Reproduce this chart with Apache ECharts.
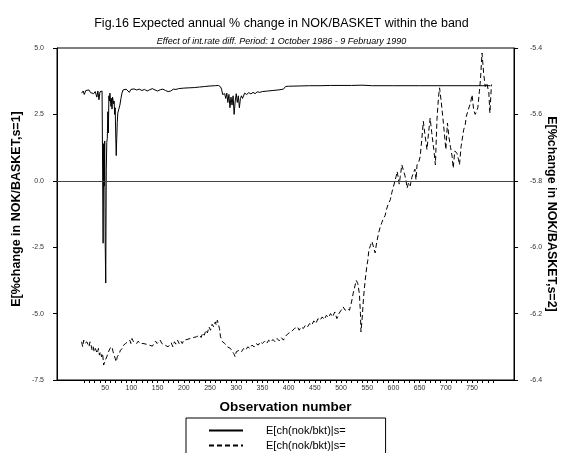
<!DOCTYPE html>
<html>
<head>
<meta charset="utf-8">
<script src="https://cdn.jsdelivr.net/npm/echarts@6/dist/echarts.min.js"></script>
<style>
  html, body { margin: 0; padding: 0; background: #fff; }
  #main { width: 563px; height: 453px; }
</style>
</head>
<body>
<div id="main"></div>
<script>
// observation numbers and values, s=1 (left axis)
const obs1 = [5, 8, 10, 13, 16, 19, 22, 25, 28, 31, 34, 36, 38, 40, 42, 44, 46, 47, 48, 49, 50, 51, 52, 53, 54, 55, 56, 57, 58, 59, 61, 62, 63, 64, 66, 67, 68, 69, 70, 71, 72, 73, 74, 76, 78, 80, 82, 84, 87, 90, 93, 96, 99, 102, 105, 110, 115, 120, 125, 130, 135, 140, 145, 150, 155, 160, 165, 170, 175, 180, 185, 190, 200, 210, 220, 230, 240, 250, 260, 266, 270, 272, 274, 276, 278, 280, 282, 284, 286, 288, 290, 292, 294, 296, 298, 300, 302, 304, 306, 308, 310, 312, 316, 320, 324, 328, 332, 336, 340, 345, 350, 360, 370, 380, 390, 394, 400, 420, 440, 460, 480, 500, 520, 540, 560, 600, 650, 700, 750, 785];
const val1 = [3.30, 3.38, 3.25, 3.40, 3.35, 3.42, 3.32, 3.38, 3.28, 3.36, 3.15, 3.38, 3.05, 3.35, 3.30, 3.38, -2.35, 1.40, -0.2, 1.5, -2.4, -3.85, 0.4, 1.45, 1.6, 2.6, 1.8, 3.2, 3.0, 3.3, 2.8, 3.1, 2.7, 3.15, 2.9, 3.0, 2.5, 2.75, 1.8, 0.95, 1.6, 2.2, 2.55, 2.7, 2.85, 3.1, 3.3, 3.42, 3.35, 3.45, 3.40, 3.33, 3.44, 3.38, 3.46, 3.42, 3.45, 3.40, 3.44, 3.38, 3.43, 3.47, 3.42, 3.38, 3.43, 3.45, 3.40, 3.36, 3.38, 3.45, 3.44, 3.47, 3.49, 3.50, 3.51, 3.53, 3.55, 3.57, 3.58, 3.59, 3.54, 3.45, 3.25, 3.32, 3.28, 3.10, 3.30, 2.95, 3.25, 2.75, 3.15, 2.85, 3.2, 2.5, 3.0, 3.28, 2.95, 3.2, 2.75, 3.1, 3.2, 3.1, 3.3, 3.25, 3.32, 3.27, 3.33, 3.28, 3.35, 3.33, 3.36, 3.38, 3.40, 3.42, 3.45, 3.55, 3.56, 3.57, 3.58, 3.58, 3.59, 3.59, 3.59, 3.60, 3.58, 3.58, 3.58, 3.58, 3.58, 3.58];

// observation numbers and values, s=2 (right axis)
const obs2 = [5, 7, 9, 11, 13, 15, 17, 19, 21, 23, 25, 27, 29, 31, 33, 35, 37, 39, 41, 43, 45, 47, 48, 49, 51, 53, 55, 57, 59, 61, 63, 65, 67, 69, 71, 73, 75, 77, 79, 81, 83, 85, 87, 89, 91, 93, 95, 97, 99, 101, 104, 107, 110, 113, 116, 119, 122, 125, 128, 131, 134, 137, 140, 143, 146, 149, 152, 155, 158, 161, 164, 167, 170, 173, 176, 179, 182, 185, 188, 191, 194, 197, 200, 203, 206, 209, 212, 215, 218, 221, 224, 227, 230, 233, 236, 239, 242, 245, 248, 251, 254, 257, 260, 262, 264, 266, 268, 270, 272, 274, 276, 278, 280, 283, 286, 289, 292, 295, 298, 300, 303, 306, 310, 314, 318, 322, 326, 330, 334, 338, 342, 346, 350, 354, 358, 362, 366, 370, 374, 378, 382, 386, 390, 393, 396, 399, 402, 405, 408, 411, 414, 417, 420, 424, 428, 432, 436, 440, 444, 448, 452, 456, 460, 464, 468, 472, 476, 480, 484, 488, 492, 496, 500, 504, 508, 512, 516, 520, 523, 526, 529, 532, 535, 537, 538, 540, 543, 546, 549, 551, 553, 556, 559, 562, 565, 568, 572, 575, 578, 581, 584, 587, 590, 594, 597, 600, 603, 605, 607, 609, 611, 613, 616, 619, 622, 624, 626, 629, 632, 635, 638, 641, 643, 645, 648, 651, 654, 657, 660, 664, 667, 670, 673, 677, 680, 683, 686, 688, 691, 694, 697, 700, 703, 706, 709, 712, 714, 717, 721, 724, 726, 729, 734, 737, 739, 742, 745, 747, 750, 753, 756, 758, 761, 764, 766, 769, 772, 775, 778, 782, 784, 787];
const val2 = [-6.285, -6.30, -6.28, -6.29, -6.295, -6.285, -6.29, -6.30, -6.285, -6.295, -6.31, -6.30, -6.315, -6.305, -6.31, -6.32, -6.305, -6.325, -6.315, -6.33, -6.32, -6.355, -6.36, -6.345, -6.34, -6.33, -6.32, -6.315, -6.305, -6.31, -6.30, -6.315, -6.325, -6.335, -6.345, -6.33, -6.335, -6.32, -6.31, -6.315, -6.305, -6.295, -6.30, -6.29, -6.295, -6.285, -6.29, -6.28, -6.29, -6.275, -6.285, -6.28, -6.29, -6.283, -6.29, -6.285, -6.29, -6.285, -6.292, -6.288, -6.295, -6.29, -6.298, -6.29, -6.283, -6.29, -6.295, -6.28, -6.29, -6.285, -6.295, -6.29, -6.30, -6.295, -6.288, -6.30, -6.285, -6.292, -6.28, -6.29, -6.282, -6.29, -6.28, -6.285, -6.278, -6.284, -6.275, -6.28, -6.272, -6.278, -6.27, -6.275, -6.265, -6.272, -6.258, -6.265, -6.25, -6.258, -6.24, -6.25, -6.232, -6.24, -6.225, -6.235, -6.22, -6.215, -6.245, -6.27, -6.265, -6.285, -6.28, -6.29, -6.285, -6.30, -6.295, -6.305, -6.31, -6.32, -6.33, -6.315, -6.32, -6.31, -6.315, -6.305, -6.31, -6.30, -6.305, -6.295, -6.30, -6.29, -6.295, -6.285, -6.29, -6.283, -6.29, -6.28, -6.286, -6.278, -6.285, -6.275, -6.282, -6.272, -6.28, -6.27, -6.275, -6.26, -6.265, -6.255, -6.26, -6.245, -6.25, -6.24, -6.25, -6.24, -6.245, -6.235, -6.24, -6.23, -6.235, -6.222, -6.23, -6.215, -6.22, -6.21, -6.218, -6.205, -6.212, -6.20, -6.21, -6.195, -6.215, -6.20, -6.19, -6.18, -6.19, -6.185, -6.19, -6.165, -6.14, -6.12, -6.10, -6.11, -6.14, -6.20, -6.255, -6.22, -6.15, -6.10, -6.06, -6.04, -6.01, -5.995, -5.983, -6.00, -6.017, -5.985, -5.955, -5.938, -5.925, -5.913, -5.905, -5.885, -5.87, -5.857, -5.835, -5.817, -5.80, -5.787, -5.772, -5.79, -5.81, -5.787, -5.752, -5.757, -5.785, -5.80, -5.822, -5.805, -5.815, -5.79, -5.777, -5.765, -5.797, -5.752, -5.745, -5.727, -5.676, -5.621, -5.66, -5.706, -5.655, -5.611, -5.655, -5.706, -5.752, -5.616, -5.546, -5.52, -5.56, -5.606, -5.655, -5.706, -5.626, -5.67, -5.70, -5.727, -5.762, -5.71, -5.717, -5.735, -5.752, -5.697, -5.646, -5.63, -5.606, -5.59, -5.575, -5.566, -5.541, -5.586, -5.60, -5.606, -5.58, -5.53, -5.495, -5.415, -5.475, -5.516, -5.505, -5.535, -5.596, -5.51];

const xLabelValues = [50, 100, 150, 200, 250, 300, 350, 400, 450, 500, 550, 600, 650, 700, 750];
const xTickValues = [];
for (let v = 10; v <= 790; v += 10) xTickValues.push(v);

const seriesNames = ['E[ch(nok/bkt)|s=1]', 'E[ch(nok/bkt)|s=2]'];

const font = 'Liberation Sans, Arial, sans-serif';
const chart = echarts.init(document.getElementById('main'), null, { renderer: 'canvas' });

const option = {
  animation: false,
  backgroundColor: '#fff',
  textStyle: { fontFamily: font },
  title: [
    {
      text: 'Fig.16 Expected annual % change in NOK/BASKET within the band',
      left: 'center',
      top: 12,
      textStyle: { fontSize: 12.5, fontWeight: 'normal', color: '#000', fontFamily: font }
    },
    {
      text: 'Effect of int.rate diff. Period: 1 October 1986 - 9 February 1990',
      left: 'center',
      top: 32,
      textStyle: { fontSize: 9, fontStyle: 'italic', fontWeight: 'normal', color: '#000', fontFamily: font }
    }
  ],
  grid: {
    left: 57, right: 49, top: 48, bottom: 73,
    outerBoundsMode: 'none',
    containLabel: false,
    show: true, borderColor: '#000', borderWidth: 1, backgroundColor: 'transparent'
  },
  legend: {
    orient: 'horizontal',
    left: 186,
    top: 418,
    width: 142,
    itemWidth: 34,
    itemHeight: 10,
    itemGap: 4,
    padding: [7, 40, 10, 22],
    borderColor: '#000',
    borderWidth: 1,
    backgroundColor: '#fff',
    itemStyle: { opacity: 0 },
    textStyle: { fontSize: 11, color: '#000', fontFamily: font, padding: [0, 0, 0, 18] },
    formatter: (name) => name.replace(/\d\]$/, ''),
    data: seriesNames
  },
  xAxis: {
    type: 'value',
    min: -42,
    max: 830,
    name: 'Observation number',
    nameLocation: 'middle',
    nameGap: 20,
    nameMoveOverlap: false,
    nameTextStyle: { fontSize: 13.5, fontWeight: 'bold', color: '#000', fontFamily: font },
    axisLine: { show: true, onZero: false, lineStyle: { color: '#000', width: 1 } },
    axisTick: { show: true, length: 3, customValues: xTickValues, lineStyle: { color: '#000' } },
    axisLabel: { fontSize: 7, color: '#333', margin: 5, customValues: xLabelValues },
    splitLine: { show: false }
  },
  yAxis: [
    {
      type: 'value',
      position: 'left',
      min: -7.5,
      max: 5,
      interval: 2.5,
      name: 'E[%change in NOK/BASKET,s=1]',
      nameLocation: 'middle',
      nameGap: 34,
      nameMoveOverlap: false,
      nameTextStyle: { fontSize: 12.5, fontWeight: 'bold', color: '#000', fontFamily: font, padding: [0, 0, 0, 10] },
      axisLine: { show: true, onZero: false, lineStyle: { color: '#000' } },
      axisTick: { show: true, length: 4, lineStyle: { color: '#000' } },
      axisLabel: { fontSize: 7, color: '#333', margin: 13, formatter: (v) => v.toFixed(1) },
      splitLine: { show: false }
    },
    {
      type: 'value',
      position: 'right',
      min: -6.4,
      max: -5.4,
      interval: 0.2,
      name: 'E[%change in NOK/BASKET,s=2]',
      nameLocation: 'middle',
      nameGap: 31,
      nameRotate: -90,
      nameMoveOverlap: false,
      nameTextStyle: { fontSize: 12.5, fontWeight: 'bold', color: '#000', fontFamily: font },
      axisLine: { show: true, onZero: false, lineStyle: { color: '#000' } },
      axisTick: { show: true, length: 4, lineStyle: { color: '#000' } },
      axisLabel: { fontSize: 7, color: '#333', margin: 16, formatter: (v) => v.toFixed(1) },
      splitLine: { show: false }
    }
  ],
  series: [
    {
      name: seriesNames[0],
      type: 'line',
      yAxisIndex: 0,
      symbol: 'none',
      lineStyle: { color: '#000', width: 1 },
      itemStyle: { color: '#000' },
      data: obs1.map((x, i) => [x, val1[i]]),
      markLine: {
        silent: true,
        symbol: ['none', 'none'],
        label: { show: false },
        lineStyle: { color: '#444', type: 'solid', width: 1 },
        data: [{ yAxis: 0 }]
      }
    },
    {
      name: seriesNames[1],
      type: 'line',
      yAxisIndex: 1,
      symbol: 'none',
      lineStyle: { color: '#000', width: 1, type: [5, 3] },
      itemStyle: { color: '#000' },
      data: obs2.map((x, i) => [x, val2[i]])
    }
  ]
};

chart.setOption(option);
</script>
</body>
</html>
